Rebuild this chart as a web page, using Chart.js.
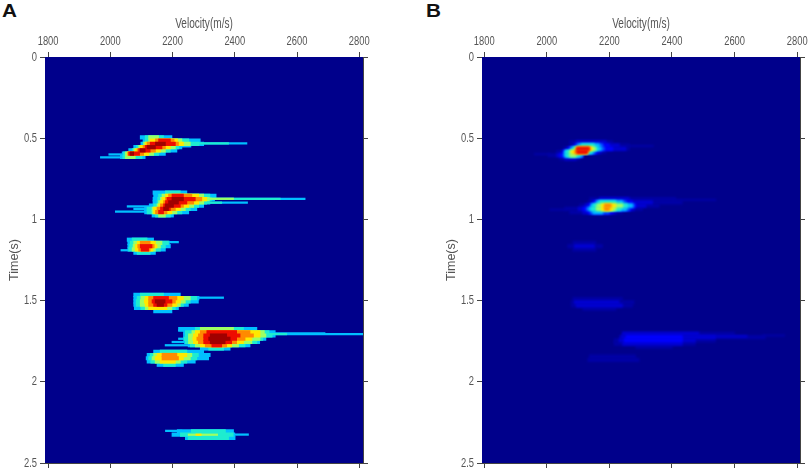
<!DOCTYPE html>
<html>
<head>
<meta charset="utf-8">
<style>
  body { margin: 0; background: #fff; }
  canvas { position: absolute; top: 0; filter: blur(0.4px); }
  .letter { position: absolute; top: 1px; font: bold 18px "Liberation Sans", Arial, sans-serif; color: #111; transform: scaleX(1.15); transform-origin: left; }
</style>
<script src="https://cdn.jsdelivr.net/npm/chart.js@4"></script>
</head>
<body>
<div class="letter" style="left:2px">A</div>
<div class="letter" style="left:426px">B</div>
<canvas id="panelA" width="372" height="473" style="left:0"></canvas>
<canvas id="panelB" width="372" height="473" style="left:437px"></canvas>
<script>
// axis ticks
const velocityTicks = [1800, 2000, 2200, 2400, 2600, 2800];
const timeTicks = [0, 0.5, 1, 1.5, 2, 2.5];

// semblance colour levels, low to high
const levelColors = ["#0000a6", "#0000d2", "#0000ff", "#0058ff", "#00c0ff", "#1eecd0",
  "#9cff64", "#ffe800", "#ff8a00", "#ee0c00", "#a00000"];

// each row: time, then nested velocity intervals (from, to), outermost first
const blobA1 = [
  [0.495, 2096,2198, 2112,2171, 2123,2155],
  [0.515, 2105,2289, 2112,2252, 2123,2230, 2128,2216, 2145,2205, 2155,2193],
  [0.535, 2098,2300, 2105,2285, 2107,2257, 2112,2235, 2118,2219, 2128,2209, 2145,2177],
  [0.555, 2075,2230, 2084,2220, 2091,2209, 2096,2193, 2105,2177, 2112,2166, 2118,2145],
  [0.575, 2059,2214, 2070,2193, 2075,2177, 2080,2161, 2086,2145, 2091,2128, 2096,2112],
  [0.595, 2038,2177, 2042,2155, 2048,2139, 2054,2123, 2056,2107, 2059,2094, 2064,2075],
  [0.615, 2032,2112, 2040,2102, 2048,2080]
];
const blobA2 = [
  [0.835, 2137,2246, 2177,2225],
  [0.855, 2139,2340, 2155,2320, 2166,2300, 2177,2284, 2187,2262, 2198,2235],
  [0.875, 2137,2335, 2152,2325, 2161,2318, 2166,2310, 2177,2294, 2182,2273, 2198,2235],
  [0.895, 2137,2320, 2150,2310, 2155,2300, 2161,2284, 2171,2268, 2177,2246, 2187,2219],
  [0.915, 2125,2300, 2139,2284, 2150,2268, 2155,2252, 2161,2235, 2171,2225, 2177,2203],
  [0.935, 2110,2278, 2118,2257, 2134,2241, 2139,2225, 2150,2209, 2161,2193, 2171,2187],
  [0.955, 2110,2252, 2118,2230, 2134,2214, 2139,2198, 2145,2182, 2155,2171],
  [0.975, 2134,2203, 2145,2193, 2155,2177]
];
const blobA3 = [
  [1.125, 2054,2139, 2070,2118],
  [1.145, 2056,2190, 2064,2187, 2075,2166, 2086,2145, 2096,2128],
  [1.165, 2056,2193, 2062,2177, 2073,2161, 2080,2150, 2088,2141, 2096,2134],
  [1.185, 2056,2177, 2059,2161, 2070,2145, 2080,2137, 2091,2128, 2099,2123],
  [1.205, 2075,2145, 2086,2128]
];
const blobA4 = [
  [1.465, 2075,2225, 2096,2171],
  [1.485, 2075,2285, 2086,2278, 2098,2257, 2112,2235, 2123,2214, 2139,2187],
  [1.505, 2075,2283, 2083,2257, 2096,2241, 2109,2225, 2123,2209, 2134,2198, 2144,2176],
  [1.525, 2075,2251, 2083,2235, 2096,2225, 2112,2214, 2123,2198, 2139,2182, 2150,2171],
  [1.545, 2077,2219, 2098,2209, 2112,2198, 2123,2182],
  [1.565, 2139,2198]
];
const blobA5 = [
  [1.675, 2219,2471, 2273,2428, 2289,2396],
  [1.695, 2235,2530, 2241,2510, 2262,2495, 2273,2481, 2289,2449, 2310,2406],
  [1.715, 2235,2530, 2241,2520, 2251,2500, 2267,2481, 2283,2460, 2300,2417, 2321,2374],
  [1.735, 2235,2500, 2237,2490, 2251,2481, 2265,2455, 2278,2433, 2300,2406, 2316,2385],
  [1.755, 2238,2480, 2241,2471, 2251,2455, 2267,2428, 2283,2406, 2300,2390, 2321,2369],
  [1.775, 2250,2449, 2257,2433, 2273,2412, 2289,2390, 2305,2374, 2326,2358],
  [1.795, 2289,2385, 2316,2364]
];
const blobA6 = [
  [1.815, 2139,2300, 2160,2246],
  [1.835, 2118,2321, 2128,2283, 2139,2262, 2150,2246, 2166,2214],
  [1.855, 2115,2316, 2123,2278, 2134,2257, 2144,2235, 2166,2219],
  [1.875, 2118,2273, 2130,2246, 2144,2225, 2160,2209],
  [1.895, 2150,2235, 2171,2209]
];
const blobA7 = [
  [2.305, 2215,2396, 2260,2370],
  [2.325, 2198,2400, 2225,2395],
  [2.345, 2241,2401, 2250,2380]
];

// thin streaks leaving the blobs: time, level, from, to
const streaksA = [
  [0.532, 4, 2290, 2439], [0.532, 5, 2285, 2380], [0.55, 4, 2225, 2259],
  [0.6, 4, 1995, 2040], [0.618, 4, 1968, 2035],
  [0.873, 4, 2330, 2626], [0.873, 5, 2320, 2546], [0.873, 6, 2310, 2396],
  [0.897, 4, 2315, 2441], [0.897, 5, 2305, 2358],
  [0.92, 4, 2054, 2128], [0.935, 4, 2075, 2115], [0.952, 4, 2016, 2112],
  [1.14, 4, 2185, 2219], [1.19, 4, 2034, 2060],
  [1.482, 4, 2280, 2364],
  [1.685, 4, 2219, 2240], [1.702, 4, 2500, 2690], [1.706, 4, 2520, 2812], [1.706, 5, 2500, 2567],
  [1.735, 4, 2219, 2240], [1.755, 4, 2198, 2242], [1.775, 4, 2176, 2252],
  [2.302, 4, 2177, 2230], [2.325, 4, 2390, 2444], [2.326, 6, 2250, 2345], [2.326, 7, 2275, 2292]
];
const streaksB = [
  [0.548, 0, 2260, 2340], [0.598, 0, 1960, 2010],
  [0.88, 0, 2400, 2540], [0.94, 0, 2010, 2060],
  [1.72, 1, 2480, 2640], [1.715, 0, 2690, 2760]
];

const blobB1 = [
  [0.525, 2073,2211, 2094,2190],
  [0.545, 2073,2264, 2084,2232, 2089,2200, 2094,2179, 2100,2168, 2110,2152],
  [0.565, 2052,2264, 2062,2253, 2068,2211, 2073,2184, 2078,2174, 2084,2163, 2089,2156, 2094,2147, 2100,2139, 2094,2136],
  [0.585, 2031,2190, 2046,2174, 2052,2163, 2055,2156, 2057,2149, 2062,2142, 2073,2131, 2078,2131, 2089,2126, 2096,2131],
  [0.605, 2004,2115, 2031,2115, 2041,2115, 2052,2115, 2057,2113, 2062,2105, 2073,2094],
  [0.625, 2041,2105, 2057,2094]
];
const blobB2 = [
  [0.875, 2137,2412, 2168,2264],
  [0.895, 2131,2433, 2142,2338, 2149,2274, 2156,2253, 2160,2243, 2168,2221],
  [0.915, 2105,2359, 2121,2317, 2131,2285, 2139,2280, 2142,2274, 2149,2258, 2160,2243, 2174,2221, 2184,2206],
  [0.935, 2057,2306, 2100,2280, 2115,2269, 2126,2264, 2134,2255, 2142,2237, 2158,2221, 2174,2211, 2184,2200],
  [0.955, 2073,2243, 2115,2221, 2131,2211, 2139,2200, 2147,2179]
];
const blobB3 = [
  [1.145, 2083,2157],
  [1.165, 2067,2178, 2088,2152],
  [1.185, 2083,2157]
];
const blobB4 = [
  [1.49, 2083,2242],
  [1.51, 2078,2279, 2088,2231],
  [1.53, 2078,2274, 2094,2242],
  [1.55, 2115,2221]
];
const blobB5 = [
  [1.705, 2242,2600, 2242,2486],
  [1.725, 2231,2698, 2237,2539, 2253,2433],
  [1.745, 2215,2539, 2231,2475, 2247,2433],
  [1.765, 2215,2475, 2242,2433],
  [1.785, 2284,2401]
];
const blobB6 = [
  [1.845, 2136,2284],
  [1.865, 2131,2295]
];

// rows of a blob go to one bar list per colour level
function addBlob(levels, rows, startLevel) {
  rows.forEach(row => {
    for (let i = 1; i < row.length; i += 2) {
      levels[startLevel + (i - 1) / 2].push({ x: [row[i], row[i + 1]], y: row[0] });
    }
  });
}

function makeDatasets(blobs, streaks) {
  const levels = levelColors.map(() => []);
  const thin = levelColors.map(() => []);
  blobs.forEach(b => addBlob(levels, b.rows, b.start));
  streaks.forEach(s => thin[s[1]].push({ x: [s[2], s[3]], y: s[0] }));
  const sets = [];
  levelColors.forEach((color, i) => {
    const common = { xAxisID: "x", yAxisID: "y", backgroundColor: color, borderWidth: 0, grouped: false, order: levelColors.length - i };
    sets.push(Object.assign({ data: levels[i], barThickness: 3.5 }, common));
    sets.push(Object.assign({ data: thin[i], barThickness: 1.6 }, common));
  });
  return sets;
}

const navyBackground = {
  id: "navyBackground",
  beforeDatasetsDraw(chart, args, opts) {
    const a = chart.chartArea;
    const ctx = chart.ctx;
    ctx.fillStyle = "#00008b";
    ctx.fillRect(a.left, a.top, a.right - a.left, a.bottom - a.top);
    ctx.filter = "blur(" + opts.blur + "px)";
  },
  afterDatasetsDraw(chart) {
    chart.ctx.filter = "none";
  }
};

// the original labels use a narrow face: squeeze horizontal text only
const narrowText = {
  id: "narrowText",
  beforeInit(chart) {
    const ctx = chart.ctx;
    const fillText = ctx.fillText;
    ctx.fillText = function (s, x, y) {
      if (ctx.getTransform().b !== 0) return fillText.call(ctx, s, x, y);
      return fillText.call(ctx, s, x, y, ctx.measureText(s).width * 0.72);
    };
  }
};

const tickFont = { family: "'Liberation Sans', sans-serif", size: 13 };
const axisColor = "#444";
const textColor = "#555";

function axis(position, ticksFrom, size, showLabels, extra) {
  return Object.assign({
    type: "linear",
    position: position,
    offset: false,
    border: { color: axisColor, width: 1 },
    grid: { display: true, drawOnChartArea: false, color: axisColor, tickLength: 5, offset: false },
    ticks: {
      display: showLabels,
      autoSkip: false,
      maxRotation: 0,
      padding: 3,
      color: textColor,
      font: tickFont,
      callback: v => String(v)
    },
    afterBuildTicks: s => { s.ticks = ticksFrom.map(v => ({ value: v })); },
    afterFit: s => {
      // fixed plot box, labels may overhang
      s.paddingLeft = s.paddingRight = s.paddingTop = s.paddingBottom = 0;
      if (s.isHorizontal()) s.height = size; else s.width = size;
    }
  }, extra);
}

function makeChart(id, blobs, streaks, vMin, vMax, blur) {
  new Chart(document.getElementById(id).getContext("2d"), {
    type: "bar",
    data: { datasets: makeDatasets(blobs, streaks) },
    plugins: [narrowText, navyBackground],
    options: {
      indexAxis: "y",
      responsive: false,
      animation: false,
      devicePixelRatio: 1,
      layout: { padding: 0 },
      plugins: { legend: { display: false }, tooltip: { enabled: false }, navyBackground: { blur: blur } },
      scales: {
        x: axis("top", velocityTicks, 57, true, {
          min: vMin, max: vMax,
          title: { display: true, text: "Velocity(m/s)", color: textColor, font: { family: tickFont.family, size: 14 }, padding: { top: 16, bottom: 0 } }
        }),
        x2: axis("bottom", velocityTicks, 10, false, { min: vMin, max: vMax }),
        y: axis("left", timeTicks, 45, true, {
          min: 0, max: 2.5, reverse: true,
          title: { display: true, text: "Time(s)", color: textColor, font: { family: tickFont.family, size: 12.5 }, padding: { top: 7, bottom: 0 } }
        }),
        y2: axis("right", timeTicks, 9, false, { min: 0, max: 2.5, reverse: true })
      }
    }
  });
}

makeChart("panelA", [
  { rows: blobA1, start: 4 }, { rows: blobA2, start: 4 }, { rows: blobA3, start: 4 },
  { rows: blobA4, start: 4 }, { rows: blobA5, start: 4 }, { rows: blobA6, start: 4 },
  { rows: blobA7, start: 4 }
], streaksA, 1790, 2812, 0.5);

makeChart("panelB", [
  { rows: blobB1, start: 0 }, { rows: blobB2, start: 0 }, { rows: blobB3, start: 0 },
  { rows: blobB4, start: 0 }, { rows: blobB5, start: 0 }, { rows: blobB6, start: 0 }
], streaksB, 1793, 2809, 0.8);
</script>
</body>
</html>
